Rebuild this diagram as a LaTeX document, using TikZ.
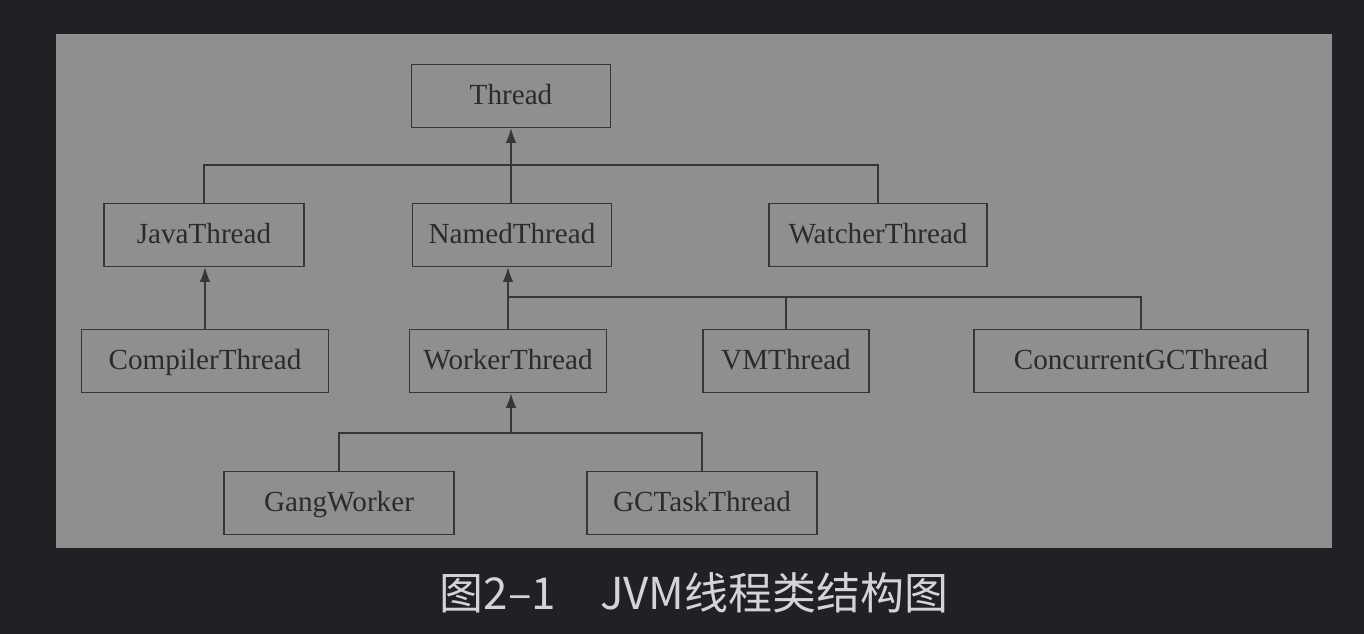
\documentclass[tikz,border=0pt]{standalone}
\usepackage{fontspec}
\setmainfont{Liberation Serif}
\newfontfamily\cjk{Noto Sans CJK SC}
\usepackage{tikz}
\usetikzlibrary{arrows.meta,positioning,calc}

\definecolor{bgdark}{HTML}{202124}
\definecolor{panel}{HTML}{8F8F8F}
\definecolor{lineclr}{HTML}{363636}
\definecolor{txtclr}{HTML}{2B2B2B}
\definecolor{capclr}{HTML}{D4D4D6}

\tikzset{
  cls/.style={draw=lineclr,line width=0.9pt,minimum height=1.26cm,inner sep=0pt,
    text=txtclr,font=\fontsize{16.6}{18}\selectfont,text height=2.1ex,text depth=0pt},
  link/.style={draw=lineclr,line width=0.9pt},
  inherit/.style={link,-{Latex[length=2.9mm,width=2.1mm]}}
}

\begin{document}
\begin{tikzpicture}[x=0.02cm,y=-0.02cm]
        % Background and panel
        \fill[bgdark] (0,0) rectangle (1364,634);
        \useasboundingbox (0,0) rectangle (1364,634);
        \fill[panel] (56,34) rectangle (1332,548);
        % Classes
        \node[cls,minimum width=3.98cm] (thread)   at (511,96)  {Thread};
        \node[cls,minimum width=4.00cm] (java)     at (204,235) {JavaThread};
        \node[cls,minimum width=3.98cm] (named)    at (512,235) {NamedThread};
        \node[cls,minimum width=4.36cm] (watcher)  at (878,235) {WatcherThread};
        \node[cls,minimum width=4.94cm] (compiler) at (205,361) {CompilerThread};
        \node[cls,minimum width=3.94cm] (worker)   at (508,361) {WorkerThread};
        \node[cls,minimum width=3.32cm] (vm)       at (786,361) {VMThread};
        \node[cls,minimum width=6.68cm] (cgc)      at (1141,361) {ConcurrentGCThread};
        \node[cls,minimum width=4.60cm] (gang)     at (339,503) {GangWorker};
        \node[cls,minimum width=4.60cm] (gctask)   at (702,503) {GCTaskThread};
        % Bars
        \coordinate (barA) at (511,165);
        \coordinate (barB) at (508,297);
        \coordinate (barC) at (511,433);
        % Thread
        \draw[inherit] (named.north -| thread.south) -- (thread.south);
        \draw[link] (java.north) |- (barA) -| (watcher.north);
        % JavaThread
        \draw[inherit] (compiler.north) -- (compiler.north |- java.south);
        % NamedThread
        \draw[inherit] (worker.north) -- (worker.north |- named.south);
        \draw[link] (barB) -| (vm.north);
        \draw[link] (barB) -| (cgc.north);
        % WorkerThread
        \draw[inherit] (barC) -- (barC |- worker.south);
        \draw[link] (gang.north) |- (barC) -| (gctask.north);
        % Caption
        \node[text=capclr,font=\cjk\fontsize{25}{28}\selectfont] (caption) at (694,593) {图2–1　JVM线程类结构图};
      \end{tikzpicture}
\end{document}
